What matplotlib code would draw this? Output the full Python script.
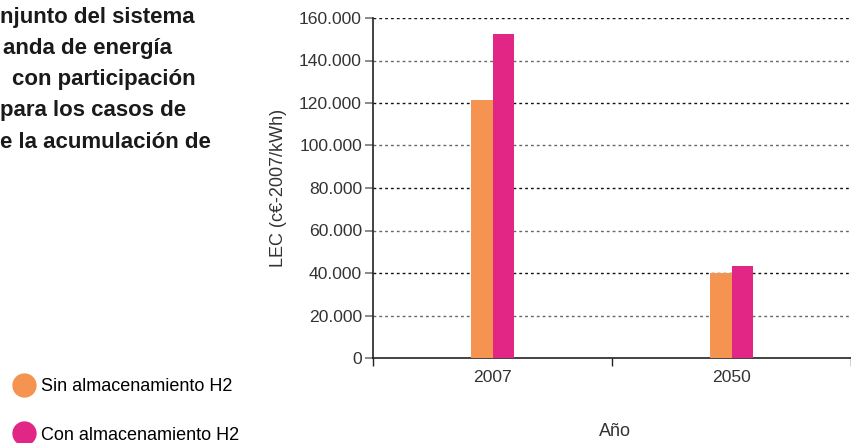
import matplotlib
matplotlib.use("Agg")
import matplotlib.pyplot as plt
import numpy as np
from matplotlib.lines import Line2D
from matplotlib.ticker import FuncFormatter

# Datos
anios = ['2007', '2050']
sin_h2 = [121500, 40000]
con_h2 = [152500, 43300]
series = ['Sin almacenamiento H2', 'Con almacenamiento H2']
colores = ['#F59450', '#E22686']
titulo = ['njunto del sistema', 'anda de energía', 'con participación',
          'para los casos de', 'e la acumulación de']
titulo_x = [0, 3, 12, 0, 0]

plt.rcParams['font.family'] = ['Liberation Sans', 'DejaVu Sans']

fig = plt.figure(figsize=(8.51, 4.43), dpi=100)
ax = fig.add_axes([373/851, 1-358/443, 1-373/851, 340/443])

x = np.arange(len(anios))
w = 0.09
ax.bar(x - w/2, sin_h2, width=w, color=colores[0], zorder=3)
ax.bar(x + w/2, con_h2, width=w, color=colores[1], zorder=3)

ax.set_ylim(0, 160000)
ax.set_xlim(-0.5, -0.5 + (851-373)/244)
ax.set_yticks(np.arange(0, 160001, 20000))
ax.yaxis.set_major_formatter(FuncFormatter(lambda v, p: '{:,.0f}'.format(v).replace(',', '.')))
ax.set_xticks(x)
ax.set_xticklabels(anios)
ax.set_xticks([-0.5, 0.5, 1.5], minor=True)

ax.tick_params(axis='y', length=6, width=1.2, color='#777777', pad=2,
               labelsize=12.6, labelcolor='#333333')
ax.tick_params(axis='x', which='major', length=0, pad=9, labelsize=12.6, labelcolor='#333333')
ax.tick_params(axis='x', which='minor', length=6, width=1.0, color='#222222')

for s in ['top', 'right']:
    ax.spines[s].set_visible(False)
for s in ['left', 'bottom']:
    ax.spines[s].set_linewidth(1.2)
    ax.spines[s].set_color('#222222')

# líneas de rejilla punteadas (alternando tono)
for i, v in enumerate(np.arange(20000, 160001, 20000)):
    c = '#666666' if i % 2 == 0 else '#111111'
    ax.axhline(v, color=c, lw=1.0, ls=(0, (2, 2.2)), zorder=1)

ax.set_ylabel('LEC (c€-2007/kWh)', fontsize=13, color='#333333')
ax.yaxis.set_label_coords(-0.18, 0.5)
ax.set_xlabel('Año', fontsize=13, color='#333333')
ax.xaxis.set_label_coords(0.506, -0.19)

# texto del título recortado a la izquierda
for i, (t, xp) in enumerate(zip(titulo, titulo_x)):
    fig.text(xp/851, 1 - (17 + i*31.3)/443, t, fontsize=16, fontweight='bold',
             color='#1a1a1a', ha='left', va='center')

handles = [Line2D([], [], ls='', marker='o', markersize=16.5, color=c) for c in colores]
fig.legend(handles, series, loc='lower left', bbox_to_anchor=(0.0, -0.026),
           frameon=False, fontsize=13, handletextpad=0.15, labelspacing=1.75,
           handlelength=1.5, borderaxespad=0.2)

fig.savefig('out.png', dpi=100)
